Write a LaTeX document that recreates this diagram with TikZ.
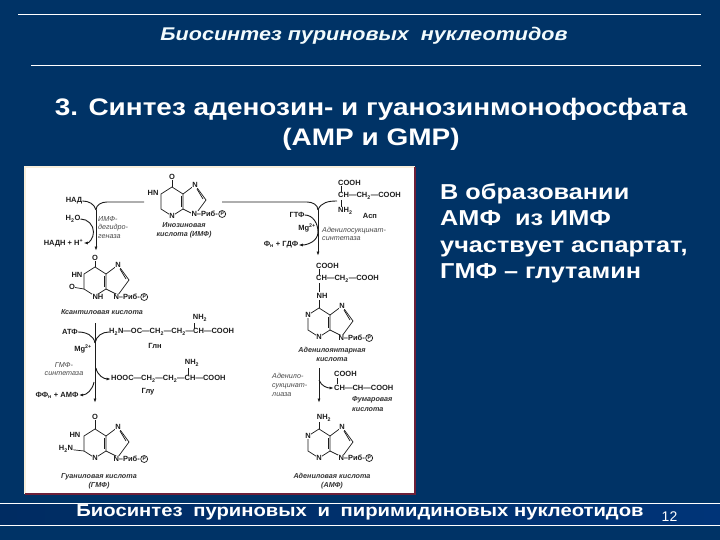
\documentclass[tikz,border=0pt]{standalone}
\usepackage{fontspec}
\setmainfont{Liberation Sans}
\newfontfamily\widefont[FakeStretch=1.17]{Liberation Sans}
\usetikzlibrary{arrows.meta}

\definecolor{slidebg}{HTML}{003366}
\definecolor{slidetext}{HTML}{F2FBFD}
\definecolor{panelred}{HTML}{6E2038}
\definecolor{panelcream}{HTML}{F8EFDC}
\definecolor{inkgray}{HTML}{1C1C1C}
\definecolor{bandleft}{HTML}{002C62}
\definecolor{bandmid}{HTML}{002A5C}
\definecolor{bandright}{HTML}{003478}

\tikzset{
  atom/.style={font=\fontsize{7.5}{8}\selectfont\bfseries,text=inkgray,fill=white,inner sep=0.3pt},
  chem/.style={font=\fontsize{7.5}{8}\selectfont\bfseries,text=inkgray,inner sep=0pt},
  phos/.style={draw=inkgray,circle,line width=0.7pt,minimum size=7pt,inner sep=0pt,anchor=west,font=\fontsize{5}{5}\selectfont\bfseries,text=inkgray},
  enzyme/.style={font=\fontsize{7.2}{8.6}\selectfont\itshape,text=inkgray!80,inner sep=0pt,align=left,anchor=west},
  caption/.style={font=\fontsize{7.2}{9.4}\selectfont\bfseries\itshape,text=inkgray!90,inner sep=0pt,align=center},
  bond/.style={inkgray,line width=0.7pt},
  pathway/.style={inkgray,line width=0.9pt},
  arrowway/.style={pathway,-{Latex[length=4.5pt,width=3pt]}},
  purine/.pic={
    \coordinate (c6) at (0,0);
    \coordinate (c5) at (11,7);
    \coordinate (c4) at (11,22);
    \coordinate (n3) at (0,29);
    \coordinate (c2) at (-11,22);
    \coordinate (n1) at (-11,7);
    \coordinate (n7) at (23,-2);
    \coordinate (c8) at (34,13);
    \coordinate (n9) at (23,28);
    \draw[bond] (c6) -- (c5) -- (c4) -- (n3) -- (c2) -- (n1) -- (c6);
    \draw[bond] (c5) -- (n7) -- (c8) -- (n9) -- (c4);
    \draw[bond] (9,9) -- (9,20);
    \draw[bond] (25,2) -- (31,12);
    \node[atom] (labn7) at (n7) {N};
  }
}

\begin{document}
\begin{tikzpicture}[x=1pt,y=-1pt]
\useasboundingbox (0,0) rectangle (720,540);
\fill[slidebg] (0,0) rectangle (720,540);

% titulnye linii
\coordinate (topa) at (18,14);
\coordinate (topb) at (701,14);
\coordinate (topc) at (31,65);
\coordinate (topd) at (701,65);
\draw[white,line width=0.8pt] (topa) -- (topb);
\draw[white,line width=0.8pt] (topc) -- (topd);

\node[text=slidetext,font=\widefont\fontsize{18.4}{20}\selectfont\bfseries\itshape,inner sep=0] (subtitle) at (364,35.5) {Биосинтез пуриновых\ \ нуклеотидов};
\node[text=white,font=\widefont\fontsize{23.9}{30}\selectfont\bfseries,align=center,inner sep=0] (maintitle) at (371,124) {3. Синтез аденозин- и гуанозинмонофосфата\\(AMP и GMP)};

\node[text=white,font=\widefont\fontsize{21.6}{26.6}\selectfont\bfseries,align=left,anchor=north west,inner sep=0] (sidetext) at (440,183) {В образовании\\АМФ\ \ из ИМФ\\участвует аспартат,\\ГМФ – глутамин};

% panel
\fill[white] (25,167) rectangle (415,494);
\draw[panelcream,line width=1.2pt] (25,494) -- (25,167) -- (415,167);
\draw[panelred,line width=1.2pt] (25,494) -- (415,494) -- (415,167);

% inozinovaya
\pic (imp) at (172,187) {purine};
\node[atom] (impn3) at (impn3) {N};
\node[atom] (imphn) at (153,193) {HN};
\node[chem] (impo) at (172,177) {O};
\draw[bond] (impo) -- (impc6);
\node[atom,anchor=west] (imprib) at (191,214) {N–Риб-};
\node[phos] (impphos) at (imprib.east) {P};
\node[caption] (impname) at (184,230.5) {Инозиновая\\кислота (ИМФ)};

% ksantilovaya
\pic (xmp) at (95,267) {purine};
\node[atom] (xmpnh) at (98,297) {NH};
\node[atom] (xmphn) at (77,275) {HN};
\node[chem] (xmpo) at (95,258) {O};
\node[chem] (xmpotwo) at (72,287) {O};
\draw[bond] (xmpo) -- (xmpc6);
\draw[bond] (xmpotwo) -- (xmpc2);
\node[atom,anchor=west] (xmprib) at (113,297) {N–Риб-};
\node[phos] (xmpphos) at (xmprib.east) {P};
\node[caption] (xmpname) at (102,312) {Ксантиловая кислота};

% guanilovaya
\pic (gmp) at (95,429) {purine};
\node[atom] (gmpn3) at (gmpn3) {N};
\node[atom] (gmphn) at (75,435) {HN};
\node[chem] (gmpo) at (95,417) {O};
\node[chem] (gmpamine) at (66,449) {H\textsubscript{2}N};
\draw[bond] (gmpo) -- (gmpc6);
\draw[bond] (gmpamine) -- (gmpc2);
\node[atom,anchor=west] (gmprib) at (113,459) {N–Риб-};
\node[phos] (gmpphos) at (gmprib.east) {P};
\node[caption] (gmpname) at (99,481) {Гуаниловая кислота\\(ГМФ)};

% adenilosukcinat
\pic (sad) at (319,308) {purine};
\node[atom] (sadn3) at (sadn3) {N};
\node[atom] (sadn1) at (sadn1) {N};
\node[atom,anchor=west] (sadrib) at (338,338) {N–Риб-};
\node[phos] (sadphos) at (sadrib.east) {P};
\node[caption] (sadname) at (332,354.5) {Аденилоянтарная\\кислота};
\node[chem,anchor=west] (sadcooh) at (316,266) {COOH};
\node[chem,anchor=west] (sadch) at (316,279) {CH—CH\textsubscript{2}—COOH};
\node[chem] (sadnh) at (322,296) {NH};
\draw[bond] (319,269) -- (319,275);
\draw[bond] (319,283) -- (319,292);
\draw[bond] (319,300) -- (sadc6);

% adenilovaya
\pic (amp) at (319,429) {purine};
\node[atom] (ampn3) at (ampn3) {N};
\node[atom] (ampn1) at (ampn1) {N};
\node[chem] (ampamine) at (324,418) {NH\textsubscript{2}};
\draw[bond] (319,422) -- (ampc6);
\node[atom,anchor=west] (amprib) at (338,458) {N–Риб-};
\node[phos] (ampphos) at (amprib.east) {P};
\node[caption] (ampname) at (332,481) {Адениловая кислота\\(АМФ)};

% aspartat
\node[chem,anchor=west] (aspcooh) at (338,183) {COOH};
\node[chem,anchor=west] (aspch) at (338,196) {CH—CH\textsubscript{2}—COOH};
\node[chem,anchor=west] (aspnh) at (338,211) {NH\textsubscript{2}};
\node[chem] (aspname) at (370,216) {Асп};
\draw[bond] (341,186) -- (341,192);
\draw[bond] (341,200) -- (341,207);

% glutamin i glutamat
\node[chem,anchor=west] (glnchain) at (109,332) {H\textsubscript{2}N—OC—CH\textsubscript{2}—CH\textsubscript{2}—CH—COOH};
\node[chem] (glnamine) at (200,318) {NH\textsubscript{2}};
\node[chem] (glnname) at (155,346) {Глн};
\draw[bond] (194,323) -- (194,329);
\node[chem,anchor=west] (gluchain) at (111,379) {HOOC—CH\textsubscript{2}—CH\textsubscript{2}—CH—COOH};
\node[chem] (gluamine) at (192,363) {NH\textsubscript{2}};
\node[chem] (gluname) at (148,392) {Глу};
\draw[bond] (188,368) -- (188,375);

% fumarat
\node[chem,anchor=west] (fumcooh) at (334,374) {COOH};
\node[chem,anchor=west] (fumch) at (334,388) {CH—CH—COOH};
\node[caption,anchor=west,align=left] (fumname) at (352,404) {Фумаровая\\кислота};
\draw[bond] (337,378) -- (337,384);

% kofaktory
\node[chem] (nad) at (74,201) {НАД};
\node[chem] (water) at (73,219) {H\textsubscript{2}O};
\node[chem] (nadh) at (63.5,243) {НАДН + Н\textsuperscript{+}};
\node[chem] (gtp) at (297,215) {ГТФ};
\node[chem] (mgone) at (307,228) {Mg\textsuperscript{2+}};
\node[chem] (gdp) at (281,245) {Ф\textsubscript{н} + ГДФ};
\node[chem] (atp) at (70,332) {АТФ};
\node[chem] (mgtwo) at (83,349) {Mg\textsuperscript{2+}};
\node[chem] (ppn) at (57,395) {ФФ\textsubscript{н} + АМФ};

% fermenty
\node[enzyme] (impdh) at (98,227.5) {ИМФ-\\дегидро-\\геназа};
\node[enzyme] (adss) at (322,234) {Аденилосукцинат-\\синтетаза};
\node[enzyme,align=center,anchor=center] (gmps) at (64,369) {ГМФ-\\синтетаза};
\node[enzyme] (adsl) at (272,385) {Аденило-\\сукцинат-\\лиаза};

% puti
\coordinate (leftstart) at (144,202);
\coordinate (rightstart) at (222,202);
\coordinate (joina) at (96,210);
\coordinate (enda) at (96,251);
\coordinate (joinb) at (318,210);
\coordinate (endb) at (318,256);
\coordinate (joinc) at (95,343);
\coordinate (startc) at (95,323);
\coordinate (endc) at (95,403);
\coordinate (startd) at (319,368);
\coordinate (endd) at (319,403);
\coordinate (turna) at (93.5,232);
\coordinate (turnb) at (318,232);
\coordinate (splitc) at (96,368);
\coordinate (splitd) at (94,382);
\coordinate (splite) at (319,380);
\coordinate (aspstart) at (337,201);

\draw[pathway] (leftstart) -- (107,202) to[out=180,in=90] (joina);
\draw[arrowway] (joina) -- (enda);
\draw[pathway] (nad.east) to[out=0,in=105] (joina);
\draw[pathway] (water.east) to[out=0,in=90] (turna);
\draw[arrowway] (turna) to[out=-90,in=0] (nadh.east);
\draw[pathway] (rightstart) -- (307,202) to[out=0,in=90] (joinb);
\draw[arrowway] (joinb) -- (endb);
\draw[pathway] (aspstart) to[out=180,in=70] (joinb);
\draw[pathway] (gtp.east) to[out=0,in=90] (turnb);
\draw[arrowway] (turnb) to[out=-90,in=0] (gdp.east);
\draw[arrowway] (startc) -- (endc);
\draw[pathway] (atp.east) to[out=0,in=100] (joinc);
\draw[pathway] (glnchain.west) to[out=180,in=80] (joinc);
\draw[arrowway] (splitc) to[out=-80,in=180] (gluchain.west);
\draw[arrowway] (splitd) to[out=-100,in=0] (ppn.east);
\draw[arrowway] (startd) -- (endd);
\draw[arrowway] (splite) to[out=-70,in=180] (fumch.west);

% nizhnyaya polosa
\coordinate (lowa) at (0,503);
\coordinate (lowb) at (720,503);
\coordinate (lowc) at (0,525);
\coordinate (lowd) at (720,525);
\shade[left color=bandleft,middle color=bandmid,right color=bandright] (lowa) rectangle (lowd);
\draw[white,line width=0.9pt] (lowa) -- (lowb);
\draw[white,line width=0.9pt] (lowc) -- (lowd);
\node[text=white,font=\widefont\fontsize{17.3}{18}\selectfont\bfseries,inner sep=0] (footer) at (360,512) {Биосинтез\hspace{5pt} пуриновых\hspace{5pt} и\hspace{5pt} пиримидиновых нуклеотидов};
\node[text=white,font=\fontsize{14}{14}\selectfont,inner sep=0] (pagenum) at (669.5,517) {12};

\end{tikzpicture}
\end{document}
